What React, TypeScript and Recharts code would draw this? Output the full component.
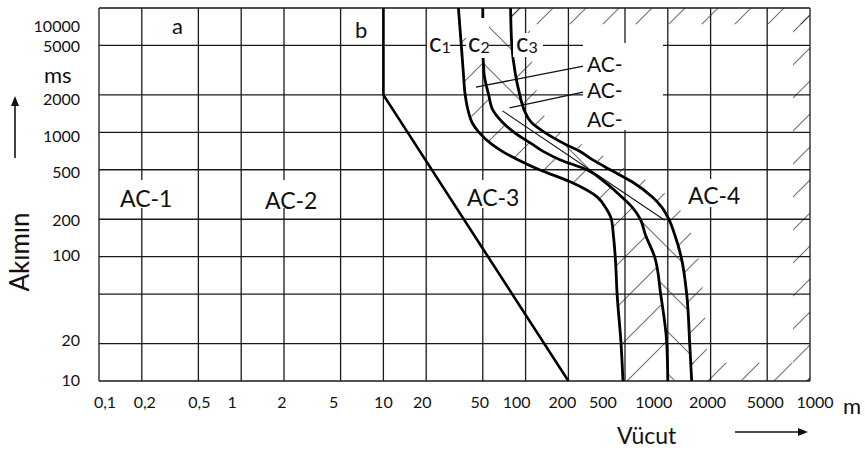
import React from 'react';
import { ComposedChart, Line, Area, XAxis, YAxis, CartesianGrid } from 'recharts';

const timeMs = [10, 20, 50, 100, 150, 200, 250, 300, 400, 500, 600, 700, 800, 1000, 1200, 1500, 2000, 3000, 5000, 10000];
// body current (mA) of each curve at those times
const c1Current = [484, 469, 440, 427, 414, 401, 364, 321, 206, 125, 89, 69, 58, 47, 42, 39.4, 37.6, 36.5, 35.3, 33.7];
const c2Current = [1000, 984, 891, 807, 696, 641, 561, 477, 359, 270, 176, 134, 112, 83, 69, 59, 55, 51, 50, 50];
const c3Current = [1472, 1426, 1358, 1240, 1119, 1016, 906, 782, 561, 394, 297, 242, 191, 136, 110, 98, 91, 84.5, 80, 78.4];
// outer end of the hatch strokes that run along c3 (AC-4 side)
const c3HatchEdge = [1936, 1875, 1786, 1640, 1472, 1337, 1194, 1033, 743, 517, 388, 316, 249, 179, 145, 129, 121, 114, 108, 107];

// line b: 10 mA down to 2 s, then to 200 mA at 10 ms
const lineB = [{ t: 10000, i: 10 }, { t: 2000, i: 10 }, { t: 10, i: 200 }];
const thinLine = [{ t: 1489, i: 68.8 }, { t: 196, i: 952 }];
const leader1 = [{ t: 3490, i: 283 }, { t: 2307, i: 44.8 }];
const leader2 = [{ t: 2148, i: 274 }, { t: 1570, i: 77 }];

// hatched border strips of the AC-4 zone
const topStrip = [{ t: 7400, r: [79, 10000] }, { t: 10000, r: [78.4, 10000] }];
const rightStrip = [{ t: 10, r: [7600, 10000] }, { t: 10000, r: [7600, 10000] }];
const bottomStrip = [{ t: 10, r: [1472, 10000] }, { t: 14, r: [1450, 10000] }];

const xTicks = [0.1, 0.2, 0.5, 1, 2, 5, 10, 20, 50, 100, 200, 500, 1000, 2000, 5000, 10000];
const xTickLabels = ['0,1', '0,2', '0,5', '1', '2', '5', '10', '20', '50', '100', '200', '500', '1000', '2000', '5000', '1000'];
const yTicks = [10, 20, 50, 100, 200, 500, 1000, 2000, 5000, 10000];
const yTickLabels = ['10', '20', '', '100', '200', '500', '1000', '2000', '5000', '10000'];

// the labels in the original sit a little off their grid lines
const xLabelShift = [6, 3, 1, -9, -2, -7, 0, -4, -3, -9, -6, -22, -14, -3, -2, 5];
const yLabelShift = [5, 2, 0, 4, 7, 8, 10, 10, 7, 24];

const FONT = 'Lato, sans-serif';

const rows = timeMs.map((t, k) => ({
  t,
  c1: c1Current[k],
  c2: c2Current[k],
  c3: c3Current[k],
  band12: [c1Current[k], c2Current[k]],
  band23: [c2Current[k], c3Current[k]],
  band3: [c3Current[k], c3HatchEdge[k]],
}));

const XTick = ({ x, payload }: any) => {
  const idx = xTicks.indexOf(payload.value);
  return (
    <text x={x + xLabelShift[idx]} y={408} textAnchor="middle" fontFamily={FONT} fontSize={16} fill="#111">
      {xTickLabels[idx]}
    </text>
  );
};

const YTick = ({ y, payload }: any) => {
  const idx = yTicks.indexOf(payload.value);
  return (
    <text x={80} y={y + yLabelShift[idx]} textAnchor="end" fontFamily={FONT} fontSize={16} fill="#111">
      {yTickLabels[idx]}
    </text>
  );
};

// white patch that hides the grid behind a label
const Patch = ({ left, top, width, height }: any) => (
  <div style={{ position: 'absolute', left, top, width, height, background: '#fff' }} />
);

const Txt = ({ x, y, size, children }: any) => (
  <span style={{ position: 'absolute', left: x, top: y, fontSize: size, lineHeight: 1, whiteSpace: 'nowrap', color: '#111' }}>
    {children}
  </span>
);

const CLabel = ({ n }: { n: string }) => (
  <>
    c<span style={{ fontSize: 16, position: 'relative', top: 1 }}>{n}</span>
  </>
);

export default function App() {
  return (
    <div style={{ position: 'absolute', left: 0, top: 0, width: 865, height: 454, background: '#fff', fontFamily: FONT, overflow: 'hidden' }}>
      <ComposedChart layout="vertical" width={865} height={454} data={rows} margin={{ top: 8, right: 55, bottom: 0, left: 0 }}>
        <defs>
          <pattern id="hatchAC4" patternUnits="userSpaceOnUse" width="33" height="33">
            <path d="M0,33 L33,0 M-8,8 L8,-8 M25,41 L41,25" stroke="#111" strokeWidth={1.1} />
          </pattern>
          <pattern id="hatch12" patternUnits="userSpaceOnUse" width="42" height="42">
            <path d="M0,42 L42,0 M-8,8 L8,-8 M34,50 L50,34" stroke="#111" strokeWidth={1.1} />
          </pattern>
          <pattern id="hatch23" patternUnits="userSpaceOnUse" width="42" height="42">
            <path d="M0,0 L42,42 M-8,34 L8,50 M34,-8 L50,8" stroke="#111" strokeWidth={1.1} />
          </pattern>
        </defs>
        <CartesianGrid stroke="#1a1a1a" strokeWidth={1.3} />
        <XAxis
          type="number"
          scale="log"
          domain={[0.1, 10000]}
          ticks={xTicks}
          interval={0}
          allowDataOverflow
          axisLine={false}
          tickLine={false}
          height={73}
          tick={<XTick />}
        />
        <YAxis
          type="number"
          scale="log"
          dataKey="t"
          domain={[10, 10000]}
          ticks={yTicks}
          interval={0}
          reversed
          allowDataOverflow
          axisLine={false}
          tickLine={false}
          width={99}
          tick={<YTick />}
        />
        <Area dataKey="band12" fill="url(#hatch12)" stroke="none" isAnimationActive={false} dot={false} activeDot={false} />
        <Area dataKey="band23" fill="url(#hatch23)" stroke="none" isAnimationActive={false} dot={false} activeDot={false} />
        <Area dataKey="band3" fill="url(#hatchAC4)" stroke="none" isAnimationActive={false} dot={false} activeDot={false} />
        <Area data={topStrip} dataKey="r" fill="url(#hatchAC4)" stroke="none" isAnimationActive={false} dot={false} activeDot={false} />
        <Area data={rightStrip} dataKey="r" fill="url(#hatchAC4)" stroke="none" isAnimationActive={false} dot={false} activeDot={false} />
        <Area data={bottomStrip} dataKey="r" fill="url(#hatchAC4)" stroke="none" isAnimationActive={false} dot={false} activeDot={false} />
        <Line data={thinLine} dataKey="i" stroke="#111" strokeWidth={1.1} dot={false} activeDot={false} isAnimationActive={false} />
        <Line data={leader1} dataKey="i" stroke="#111" strokeWidth={1.3} dot={false} activeDot={false} isAnimationActive={false} />
        <Line data={leader2} dataKey="i" stroke="#111" strokeWidth={1.3} dot={false} activeDot={false} isAnimationActive={false} />
        <Line data={lineB} dataKey="i" stroke="#000" strokeWidth={2.6} dot={false} activeDot={false} isAnimationActive={false} />
        <Line dataKey="c1" type="monotone" stroke="#000" strokeWidth={2.8} dot={false} activeDot={false} isAnimationActive={false} />
        <Line dataKey="c2" type="monotone" stroke="#000" strokeWidth={2.8} dot={false} activeDot={false} isAnimationActive={false} />
        <Line dataKey="c3" type="monotone" stroke="#000" strokeWidth={2.8} dot={false} activeDot={false} isAnimationActive={false} />
      </ComposedChart>

      {/* white patches behind labels, then the labels */}
      <Patch left={427} top={30} width={23} height={27} />
      <Patch left={466} top={18} width={23} height={40} />
      <Patch left={513} top={33} width={30} height={24} />
      <Patch left={583} top={43} width={80} height={87} />
      <Patch left={117} top={180} width={58} height={28} />
      <Patch left={262} top={180} width={58} height={28} />
      <Patch left={464} top={180} width={60} height={28} />
      <Patch left={685} top={179} width={60} height={28} />

      <Txt x={172} y={15} size={22}>a</Txt>
      <Txt x={355} y={19} size={22}>b</Txt>
      <Txt x={429} y={29} size={26}><CLabel n="1" /></Txt>
      <Txt x={468} y={29} size={26}><CLabel n="2" /></Txt>
      <Txt x={516} y={29} size={26}><CLabel n="3" /></Txt>

      <Txt x={587} y={53} size={21}>AC-</Txt>
      <Txt x={587} y={79} size={21}>AC-</Txt>
      <Txt x={587} y={108} size={21}>AC-</Txt>

      <Txt x={120} y={187} size={23}>AC-1</Txt>
      <Txt x={265} y={189} size={23}>AC-2</Txt>
      <Txt x={467} y={186} size={23}>AC-3</Txt>
      <Txt x={688} y={184} size={23}>AC-4</Txt>

      <Txt x={44} y={64} size={22}>ms</Txt>
      <Txt x={843} y={395} size={22}>m</Txt>
      <Txt x={617} y={424} size={23}>Vücut</Txt>

      <div
        style={{
          position: 'absolute',
          left: 19,
          top: 252,
          transform: 'translate(-50%, -50%) rotate(-90deg)',
          fontSize: 26,
          lineHeight: 1,
          whiteSpace: 'nowrap',
          color: '#111',
        }}
      >
        Akımın
      </div>

      <svg style={{ position: 'absolute', left: 0, top: 0 }} width={865} height={454}>
        <line x1={15} y1={158} x2={15} y2={104} stroke="#111" strokeWidth={1.6} />
        <polygon points="15,96 11,106 19,106" fill="#111" />
        <line x1={735} y1={432} x2={800} y2={432} stroke="#111" strokeWidth={1.6} />
        <polygon points="808,432 798,428 798,436" fill="#111" />
      </svg>
    </div>
  );
}
